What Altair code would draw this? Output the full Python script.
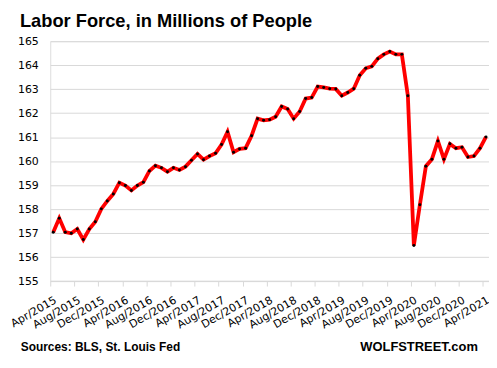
import altair as alt
import pandas as pd

values = [
    157.04, 157.62, 157.04, 156.99, 157.17, 156.73, 157.17, 157.47, 158.01,  # Apr15-Dec15
    158.34, 158.63, 159.10, 158.98, 158.78, 158.98, 159.12, 159.59, 159.81, 159.72, 159.56, 159.72,  # 2016
    159.63, 159.77, 160.04, 160.30, 160.06, 160.21, 160.33, 160.69, 161.22, 160.37, 160.51, 160.54,  # 2017
    161.06, 161.77, 161.70, 161.73, 161.85, 162.28, 162.17, 161.77, 162.07, 162.61, 162.65, 163.11,  # 2018
    163.07, 163.02, 163.01, 162.73, 162.86, 163.02, 163.58, 163.87, 163.95, 164.27, 164.45, 164.57,  # 2019
    164.45, 164.45, 162.73, 156.48, 158.18, 159.79, 160.08, 160.84, 160.08, 160.72, 160.54, 160.58,  # 2020
    160.17, 160.21, 160.54, 161.01,  # 2021
]
tick_labels = [
    "Apr/2015", "Aug/2015", "Dec/2015", "Apr/2016", "Aug/2016", "Dec/2016",
    "Apr/2017", "Aug/2017", "Dec/2017", "Apr/2018", "Aug/2018", "Dec/2018",
    "Apr/2019", "Aug/2019", "Dec/2019", "Apr/2020", "Aug/2020", "Dec/2020",
    "Apr/2021",
]
y_ticks = list(range(155, 166))
title_text = "Labor Force, in Millions of People"
source_text = "Sources: BLS, St. Louis Fed"
brand_text = "WOLFSTREET.com"

df = pd.DataFrame({"idx": list(range(len(values))), "value": values})

label_arr = "[" + ",".join("'" + t + "'" for t in tick_labels) + "]"
tick_vals = [i * 4 - 0.5 for i in range(len(tick_labels))]

W = 441.5
H = 241.4

x_enc = alt.X(
    "idx:Q",
    scale=alt.Scale(domain=[-0.5, len(values) - 0.5], nice=False, zero=False),
    axis=alt.Axis(
        values=tick_vals,
        tickCount=40,
        labelExpr=label_arr + "[round((datum.value + 0.5) / 4)]",
        title=None,
        grid=False,
        domain=True,
        domainColor="#d9d9d9",
        ticks=True,
        tickColor="#d9d9d9",
        tickSize=5,
        labelAngle=330,
        labelAlign="right",
        labelBaseline="top",
        labelFont="DejaVu Sans",
        labelFontSize=11,
        labelColor="#000000",
        labelPadding=8,
        labelOffset=2,
        labelOverlap=False,
        labelFlush=False,
    ),
)
y_enc = alt.Y(
    "value:Q",
    scale=alt.Scale(domain=[155, 165], nice=False, zero=False),
    axis=alt.Axis(
        values=y_ticks,
        tickCount=20,
        format="d",
        title=None,
        grid=True,
        gridColor="#d9d9d9",
        gridWidth=1,
        domain=False,
        ticks=False,
        labelFont="DejaVu Sans",
        labelFontSize=11,
        labelColor="#000000",
        labelPadding=12,
        labelOverlap=False,
    ),
)

base = alt.Chart(df)
line = base.mark_line(color="#ff0000", strokeWidth=3.8).encode(x=x_enc, y=y_enc)
pts = base.mark_circle(color="#000000", size=9, opacity=1).encode(x="idx:Q", y="value:Q")

txt_df = pd.DataFrame({"t": [0]})
title = alt.Chart(txt_df).mark_text(
    text=title_text, font="Liberation Sans", fontWeight="bold", fontSize=18.4,
    align="left", baseline="alphabetic", color="#000000",
).encode(x=alt.value(-30.5), y=alt.value(-14.3))
source = alt.Chart(txt_df).mark_text(
    text=source_text, font="Liberation Sans", fontWeight="bold", fontSize=12,
    align="left", baseline="alphabetic", color="#000000",
).encode(x=alt.value(-29.7), y=alt.value(312.2))
brand = alt.Chart(txt_df).mark_text(
    text=brand_text, font="Liberation Sans", fontWeight="bold", fontSize=13,
    align="right", baseline="alphabetic", color="#000000",
).encode(x=alt.value(430.3), y=alt.value(311.5))

chart = alt.layer(line, pts, title, source, brand).properties(
    width=W,
    height=H,
    autosize=alt.AutoSizeParams(type="none"),
    padding={"left": 42.5, "top": 32.3, "right": 0, "bottom": 76},
).configure_view(stroke=None).configure(background="#ffffff")

chart.save("out.html", embed_options={"renderer": "svg", "actions": False})
